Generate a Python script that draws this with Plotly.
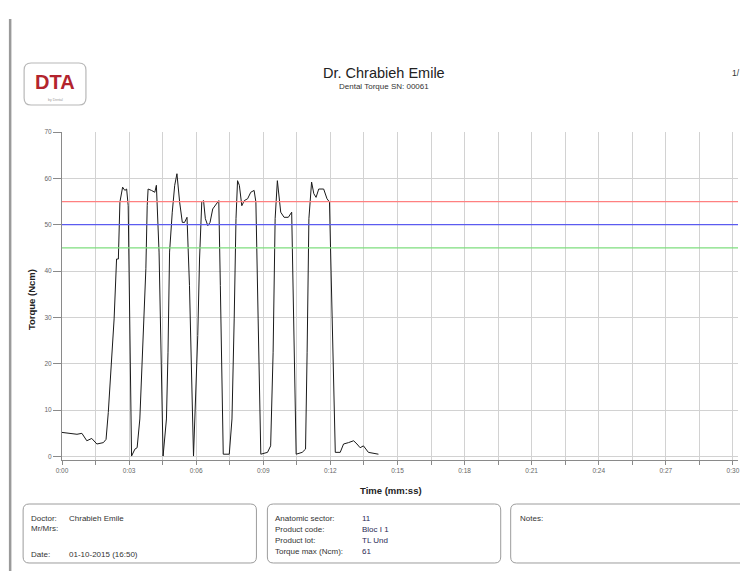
import plotly.graph_objects as go

# ---------------- data ----------------
time_s = [0, 0.37, 0.67, 0.89, 1.11, 1.33, 1.56, 1.85, 1.97, 2.07,
          2.22, 2.33, 2.44, 2.52, 2.59, 2.71, 2.81, 2.89, 2.96, 3.11,
          3.26, 3.36, 3.48, 3.60, 3.75, 3.81, 3.85, 4.00, 4.15, 4.22,
          4.34, 4.52, 4.67, 4.74, 4.81, 4.93, 5.04, 5.14, 5.26, 5.38,
          5.48, 5.59, 5.70, 5.88, 6.00, 6.07, 6.15, 6.25, 6.33, 6.41,
          6.52, 6.62, 6.74, 6.89, 7.01, 7.08, 7.21, 7.48, 7.60, 7.70,
          7.78, 7.85, 7.93, 8.04, 8.15, 8.30, 8.44, 8.59, 8.67, 8.77,
          8.89, 9.19, 9.33, 9.44, 9.53, 9.63, 9.78, 9.93, 10.12, 10.27,
          10.37, 10.47, 10.74, 10.89, 10.96, 11.04, 11.16, 11.26, 11.36, 11.48,
          11.70, 11.85, 11.96, 12.07, 12.22, 12.44, 12.59, 12.81, 13.04, 13.19,
          13.33, 13.48, 13.70, 14.15]
torque_ncm = [5.2, 5.0, 4.8, 5.0, 3.4, 3.9, 2.7, 3.0, 3.7, 9.5,
              22.5, 29.7, 42.6, 42.6, 54.9, 58.1, 57.4, 57.7, 54.1, 0.1,
              1.6, 1.9, 8.1, 22.5, 40.5, 54.1, 57.7, 57.4, 57.0, 58.5,
              44.1, 0.1, 8.1, 22.5, 44.1, 52.7, 58.5, 61.0, 54.9, 50.5,
              50.5, 51.6, 36.9, 0.1, 15.3, 26.1, 42.6, 54.9, 55.2, 51.3,
              49.8, 50.5, 53.4, 54.5, 55.2, 36.9, 0.5, 0.5, 8.1, 29.7,
              51.3, 59.5, 58.5, 54.1, 55.2, 55.6, 57.0, 57.4, 54.9, 29.7,
              0.5, 0.9, 2.3, 22.5, 51.3, 59.5, 52.7, 51.6, 51.6, 52.7,
              29.7, 0.5, 0.9, 1.6, 22.5, 51.3, 59.2, 56.7, 55.9, 57.7,
              57.7, 55.6, 54.9, 29.7, 0.9, 0.9, 2.7, 3.0, 3.4, 2.7,
              1.9, 2.3, 0.9, 0.5]

threshold_values = [55, 50, 45]
threshold_colors = ["#ff8080", "#5b5bf0", "#7ede7e"]

x_tick_vals = [0, 1.5, 3, 4.5, 6, 7.5, 9, 10.5, 12, 13.5, 15, 16.5, 18, 19.5,
               21, 22.5, 24, 25.5, 27, 28.5, 30]
x_tick_text = ["0:00", "", "0:03", "", "0:06", "", "0:09", "", "0:12", "",
               "0:15", "", "0:18", "", "0:21", "", "0:24", "", "0:27", "", "0:30"]
y_tick_vals = [0, 10, 20, 30, 40, 50, 60, 70]

doctor_rows = [("Doctor:", "Chrabieh Emile"), ("Mr/Mrs:", ""), ("Date:", "01-10-2015 (16:50)")]
product_rows = [("Anatomic sector:", "11"), ("Product code:", "Bloc I 1"),
                ("Product lot:", "TL Und"), ("Torque max (Ncm):", "61")]

# ---------------- layout geometry (screen pixels; body margin removed below) ----------------
W, H = 740, 571
L, R, T, B = 62, 740, 132, 460   # plot area in screen pixels
FONT = "Liberation Sans, Arial, sans-serif"


def px(xp):
    return (xp - L) / (R - L)


def py(yp):
    return (B - yp) / (B - T)


def rounded_rect(x0, y0, x1, y1, r):
    pts = [
        ("M", [(x0 + r, y0)]),
        ("L", [(x1 - r, y0)]),
        ("Q", [(x1, y0), (x1, y0 + r)]),
        ("L", [(x1, y1 - r)]),
        ("Q", [(x1, y1), (x1 - r, y1)]),
        ("L", [(x0 + r, y1)]),
        ("Q", [(x0, y1), (x0, y1 - r)]),
        ("L", [(x0, y0 + r)]),
        ("Q", [(x0, y0), (x0 + r, y0)]),
    ]
    s = ""
    for cmd, ps in pts:
        s += cmd + " " + " ".join(f"{px(a):.5f},{py(b):.5f}" for a, b in ps) + " "
    return s + "Z"


fig = go.Figure()

fig.add_trace(go.Scatter(x=time_s, y=torque_ncm, mode="lines",
                         line=dict(color="#1a1a1a", width=1), hoverinfo="x+y",
                         showlegend=False))

shapes = []
for v, c in zip(threshold_values, threshold_colors):
    shapes.append(dict(type="line", xref="paper", yref="y", x0=0, x1=1, y0=v, y1=v,
                       line=dict(color=c, width=1.2), layer="above"))

# page edge bar
shapes.append(dict(type="line", xref="paper", yref="paper", x0=px(10), x1=px(10),
                   y0=py(19), y1=py(575), line=dict(color="#9a9a9a", width=2.5)))
# logo box
shapes.append(dict(type="path", xref="paper", yref="paper",
                   path=rounded_rect(24, 63, 86, 105, 7),
                   line=dict(color="#b8b8b8", width=1.2)))
# info boxes
for (x0, x1) in [(23, 257), (268, 502), (512, 760)]:
    shapes.append(dict(type="path", xref="paper", yref="paper",
                       path=rounded_rect(x0, 504, x1, 563, 6),
                       line=dict(color="#9c9c9c", width=1)))

ann = []


def text(xp, yp, s, size=8, color="#333", anchor="left", bold=False, angle=0):
    ann.append(dict(xref="paper", yref="paper", x=px(xp), y=py(yp),
                    text=("<b>%s</b>" % s) if bold else s, showarrow=False,
                    xanchor=anchor, yanchor="middle", textangle=angle,
                    font=dict(family=FONT, size=size, color=color)))


text(55, 82, "<b>DTA</b>", size=20, color="#b3242d", anchor="center")
text(55, 100, "by Dental", size=3.5, color="#999", anchor="center")
text(385, 73, "Dr. Chrabieh Emile", size=14.5, color="#222", anchor="center")
text(385, 86, "Dental Torque SN: 00061", size=8, color="#333", anchor="center")
text(732, 73, "1/", size=8.5, color="#333")
text(31, 300, "Torque (Ncm)", size=9.5, color="#222", anchor="center", bold=True, angle=-90)
text(392, 490, "Time (mm:ss)", size=9.5, color="#222", anchor="center", bold=True)

for i, (k, v) in enumerate(doctor_rows):
    yy = [518, 528, 554][i]
    text(29, yy, k, size=8)
    text(67, yy, v, size=8)
for i, (k, v) in enumerate(product_rows):
    yy = 518 + i * 11
    text(274, yy, k, size=8)
    text(361, yy, v, size=8, color="#2a2a55")
text(519, 518, "Notes:", size=8)

fig.update_layout(
    width=W, height=H,
    margin=dict(l=L, r=W - R, t=T, b=H - B, pad=0),
    paper_bgcolor="white", plot_bgcolor="white",
    showlegend=False,
    shapes=shapes, annotations=ann,
    xaxis=dict(range=[0, (R - L) / 22.43], tickmode="array", tickvals=x_tick_vals,
               ticktext=x_tick_text, showgrid=True, gridcolor="#d2d2d2", gridwidth=1,
               zeroline=False, showline=True, linecolor="#8a8a8a", linewidth=1,
               ticks="outside", ticklen=4, tickcolor="#8a8a8a",
               ticklabeloverflow="allow",
               tickfont=dict(family=FONT, size=6.5, color="#666")),
    yaxis=dict(range=[-0.75, 70], tickmode="array", tickvals=y_tick_vals,
               showgrid=True, gridcolor="#d2d2d2", gridwidth=1, zeroline=False,
               showline=True, linecolor="#8a8a8a", linewidth=1,
               ticks="outside", ticklen=8, tickcolor="#8a8a8a",
               tickfont=dict(family=FONT, size=6.5, color="#666")),
)

fig.write_html("out.html", config={"displayModeBar": False},
               post_script="document.body.style.margin='0';document.body.style.overflow='hidden';")
